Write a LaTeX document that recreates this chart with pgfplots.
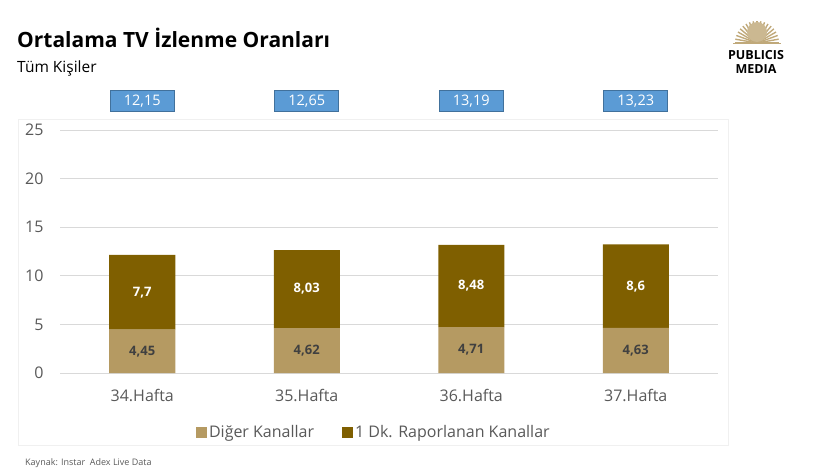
\documentclass[border=0pt]{standalone}
\usepackage{pgfplots}
\pgfplotsset{compat=1.18}
\usepackage{fontspec}
\setmainfont{Open Sans}
\definecolor{diger}{RGB}{181,154,98}
\definecolor{dakika}{RGB}{127,95,0}
\definecolor{boxblue}{RGB}{91,155,213}
\definecolor{boxedge}{RGB}{65,113,156}
\definecolor{txtgray}{RGB}{89,89,89}
\definecolor{lblgray}{RGB}{64,64,64}

\begin{document}
\begin{tikzpicture}[x=1pt,y=1pt]
\useasboundingbox (0,0) rectangle (825,469);
% chart frame
\draw[gray!12, line width=0.8pt] (18,24) rectangle (728,350);
% titles
\node[anchor=base west, font=\fontsize{21}{24}\selectfont\bfseries, inner sep=0] at (17,421) {Ortalama TV İzlenme Oranları};
\node[anchor=base west, font=\fontsize{15.5}{18}\selectfont, inner sep=0] at (17,396) {Tüm Kişiler};
\node[anchor=base west, font=\fontsize{9}{11}\selectfont, text=txtgray, inner sep=0] at (25,4) {Kaynak: Instar\ \ Adex Live Data};
% logo
\begin{scope}[shift={(757,426)}]
  \foreach \a in {0,10,...,180} {\draw[diger!85, line width=1.4pt] (0,0) -- ++(\a:22);}
  \fill[diger!70] (0,11) circle (10);
  \draw[diger!85, line width=0.9pt] (-24,0) -- (24,0);
\end{scope}
\node[font=\fontsize{12.5}{14}\selectfont\bfseries, inner sep=0] at (756,414) {PUBLICIS};
\node[font=\fontsize{12.5}{14}\selectfont\bfseries, inner sep=0] at (756,400) {MEDIA};

\begin{axis}[
  at={(60pt,96pt)}, anchor=south west,
  scale only axis, width=658pt, height=243pt,
  ybar stacked, bar width=66pt,
  xmin=-0.5, xmax=3.5, ymin=0, ymax=25,
  xtick={0,1,2,3},
  xticklabels={34.Hafta,35.Hafta,36.Hafta,37.Hafta},
  ytick={0,5,...,25},
  ymajorgrids, grid style={gray!30, line width=0.8pt},
  axis line style={draw=none},
  major tick length=0pt,
  tick label style={font=\fontsize{16}{19}\selectfont, text=txtgray},
  /pgf/number format/assume math mode=true,
  yticklabel style={xshift=-13pt},
  xticklabel style={yshift=-13pt},
  legend columns=2,
  legend style={at={(0.477,-0.243)}, anchor=center, draw=none,
    font=\fontsize{16}{19}\selectfont, text=txtgray,
    /tikz/every even column/.append style={column sep=26pt}},
  legend image code/.code={\fill[#1] (0pt,-5.5pt) rectangle (11pt,5.5pt);},
]
\addplot[fill=diger, draw=none] coordinates {(0,4.45) (1,4.62) (2,4.71) (3,4.63)};
\addplot[fill=dakika, draw=none] coordinates {(0,7.7) (1,8.03) (2,8.48) (3,8.6)};
\legend{Diğer Kanallar, 1 Dk. Raporlanan Kanallar}
\end{axis}

\begin{axis}[
  at={(60pt,96pt)}, anchor=south west,
  scale only axis, width=658pt, height=243pt,
  xmin=-0.5, xmax=3.5, ymin=0, ymax=25,
  hide axis, clip=false,
  point meta=explicit symbolic,
  nodes near coords={\pgfplotspointmeta},
]
% labels of the lower segment (mid height)
\addplot[only marks, mark=none, nodes near coords style={anchor=center, font=\fontsize{13}{15}\selectfont\bfseries, text=lblgray}]
  coordinates {(0,2.225)[{4,45}] (1,2.31)[{4,62}] (2,2.355)[{4,71}] (3,2.315)[{4,63}]};
% labels of the upper segment (mid height)
\addplot[only marks, mark=none, nodes near coords style={anchor=center, font=\fontsize{13}{15}\selectfont\bfseries, text=white}]
  coordinates {(0,8.3)[{7,7}] (1,8.635)[{8,03}] (2,8.95)[{8,48}] (3,8.93)[{8,6}]};
% totals
\addplot[only marks, mark=none, nodes near coords style={anchor=center, font=\fontsize{14.5}{16}\selectfont, text=white,
    fill=boxblue, draw=boxedge, line width=0.8pt, minimum width=64pt, minimum height=21pt, inner sep=0pt}]
  coordinates {(0,27.98)[{12,15}] (1,27.98)[{12,65}] (2,27.98)[{13,19}] (3,27.98)[{13,23}]};
\end{axis}
\end{tikzpicture}
\end{document}
